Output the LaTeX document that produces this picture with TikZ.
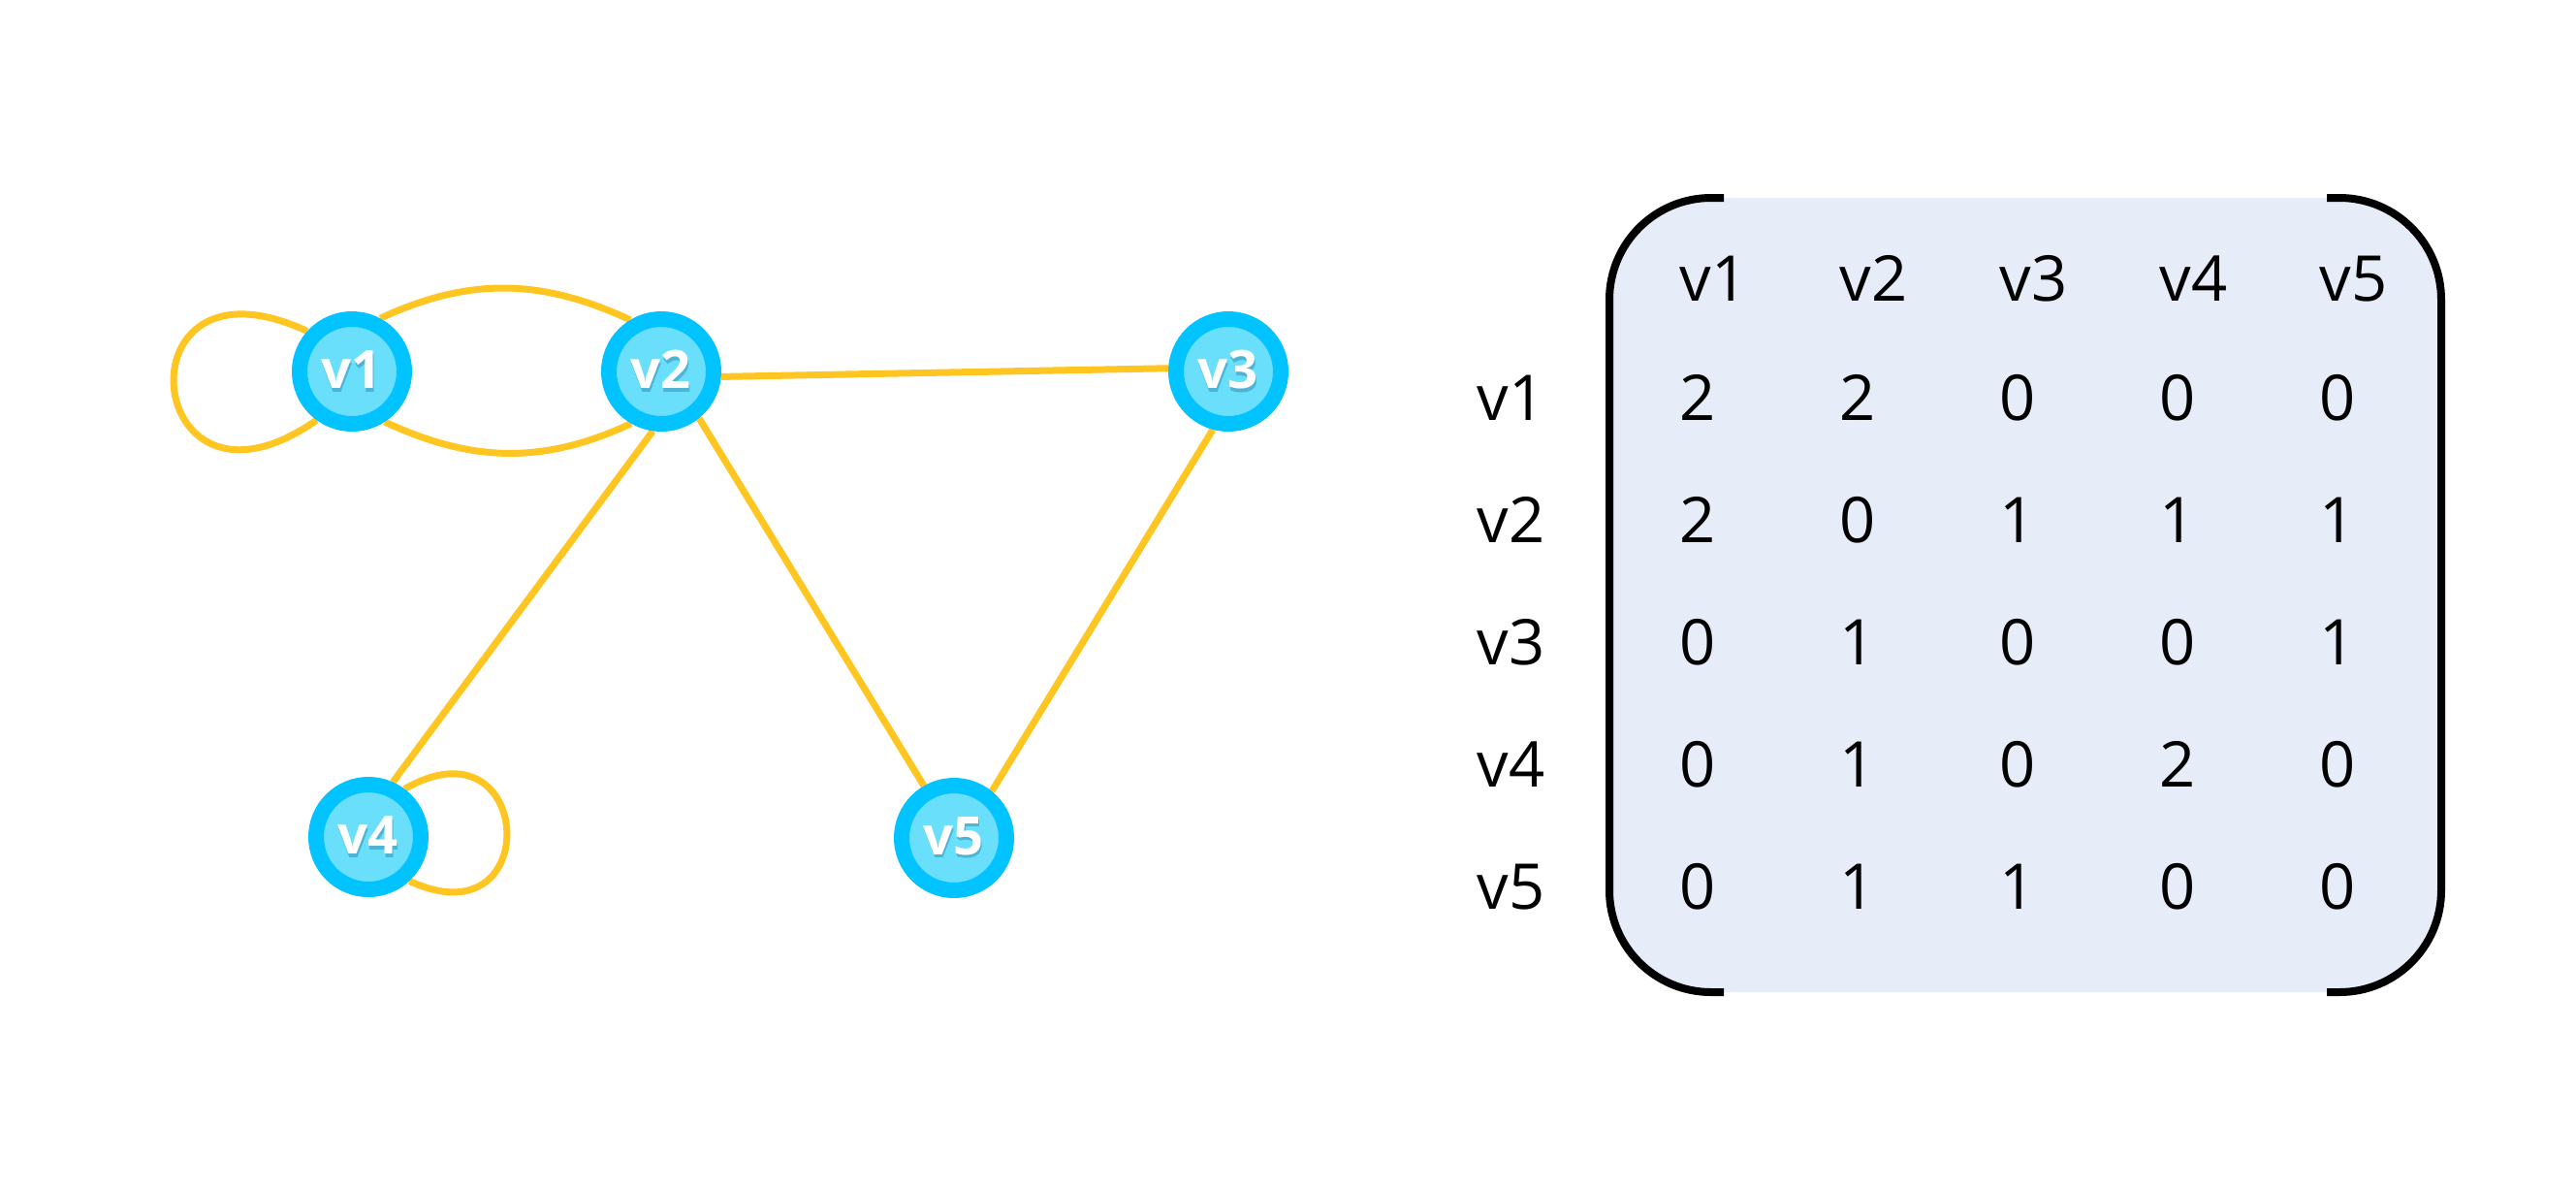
\documentclass[tikz,border=0pt]{standalone}
\usepackage{fontspec}
\setmainfont{Open Sans}
\usepackage{tikz}
\usetikzlibrary{calc,positioning}
\usetikzlibrary{backgrounds}
\usepackage{xcolor}
\definecolor{ringblue}{HTML}{00C3FF}
\definecolor{coreblue}{HTML}{6ADFFC}
\definecolor{edgeyellow}{HTML}{FFC520}
\definecolor{matfill}{HTML}{E6ECF8}
\definecolor{labshadow}{HTML}{4FB3D6}
\newcommand{\vname}[1]{\rlap{\kern0.2pt\raisebox{-1pt}{\textcolor{labshadow}{#1}}}#1}

\begin{document}
\begin{tikzpicture}[
  vertex/.style={circle,draw=ringblue,fill=coreblue,line width=0.16cm,
    minimum size=1.08cm,inner sep=0pt,text=white,
    font=\bfseries\fontsize{15.5}{15.5}\selectfont},
  edge/.style={draw=edgeyellow,line width=0.07cm},
  entry/.style={anchor=base west,inner sep=0pt,
    font=\fontsize{18.5}{18.5}\selectfont},
  bracket/.style={line width=0.08cm,rounded corners=1.05cm}]
\useasboundingbox (0,0) rectangle (26.57,-12.26);
% graph
\node[vertex] (v1) at (3.63,-3.83) {\vname{v1}};
\node[vertex] (v2) at (6.82,-3.83) {\vname{v2}};
\node[vertex] (v3) at (12.67,-3.83) {\vname{v3}};
\node[vertex] (v4) at (3.80,-8.63) {\vname{v4}};
\node[vertex] (v5) at (9.84,-8.64) {\vname{v5}};
\begin{scope}[on background layer]
\draw[edge] (v1.138) .. controls +(155:2.2) and +(215:2.2) .. (v1.234);
\draw[edge] (v1.62) to[out=25,in=155] (v2.121);
\draw[edge] (v1.-57) to[out=-25,in=-155] (v2.-120);
\draw[edge] (v2.-5) -- (v3.177);
\draw[edge] (v2.-98) -- (v4.66);
\draw[edge] (v2.-51) -- (v5.120);
\draw[edge] (v3.-105) -- (v5.51);
\draw[edge] (v4.53) .. controls +(30:1.55) and +(-25:1.55) .. (v4.-47);
\end{scope}
% adjacency matrix
\fill[matfill,rounded corners=1.05cm] (16.60,-2.04) rectangle (25.18,-10.23);
\draw[bracket] (17.78,-2.04) -- (16.60,-2.04) -- (16.60,-10.23) -- (17.78,-10.23);
\draw[bracket] (24.00,-2.04) -- (25.18,-2.04) -- (25.18,-10.23) -- (24.00,-10.23);
\foreach \lbl [count=\j] in {v1,v2,v3,v4,v5}
  \node[entry] (col\j) at ({17.32+1.65*(\j-1)},-3.10) {\lbl};
\foreach \lbl [count=\i] in {v1,v2,v3,v4,v5}
  \node[entry] (row\i) at (15.23,{-4.33-1.26*(\i-1)}) {\lbl};
\foreach \vals [count=\i] in {{2,2,0,0,0},{2,0,1,1,1},{0,1,0,0,1},{0,1,0,2,0},{0,1,1,0,0}}
  \foreach \x [count=\j] in \vals
    \node[entry] (a\i\j) at ({17.32+1.65*(\j-1)},{-4.33-1.26*(\i-1)}) {\x};
\end{tikzpicture}
\end{document}
